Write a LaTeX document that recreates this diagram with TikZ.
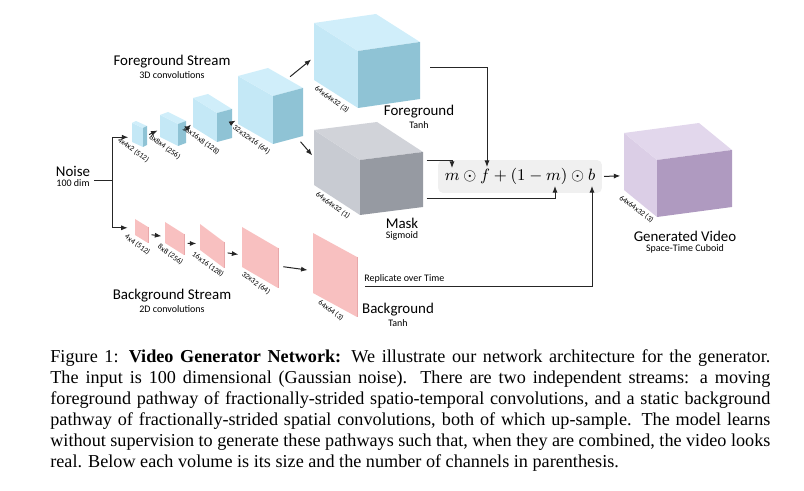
\documentclass[tikz,border=0pt]{standalone}
\usepackage{fontspec}
\setmainfont{Liberation Serif}
\setsansfont{Carlito}
\usetikzlibrary{arrows.meta, positioning, calc}

\definecolor{fgside}{RGB}{196,232,246}
\definecolor{fgtop}{RGB}{208,238,250}
\definecolor{fgfront}{RGB}{143,195,213}
\definecolor{mkside}{RGB}{200,203,210}
\definecolor{mktop}{RGB}{209,211,217}
\definecolor{mkfront}{RGB}{150,154,162}
\definecolor{gvside}{RGB}{219,206,230}
\definecolor{gvtop}{RGB}{226,215,236}
\definecolor{gvfront}{RGB}{175,154,192}
\definecolor{bgpink}{RGB}{248,192,192}
\definecolor{bgedge}{RGB}{232,168,170}
\definecolor{combfill}{RGB}{240,240,240}

% volume drawn as oblique box: name, bottom-left corner, depth, width, height, side/top/front colours
\newcommand{\cuboid}[8]{%
  \coordinate (#1-g) at #2;
  \coordinate (#1-a) at ($(#1-g)+(0,-#5)$);
  \coordinate (#1-e) at ($(#1-g)+#3$);
  \coordinate (#1-d) at ($(#1-a)+#3$);
  \coordinate (#1-f) at ($(#1-e)+#4$);
  \coordinate (#1-c) at ($(#1-d)+#4$);
  \coordinate (#1-b) at ($(#1-a)+#4$);
  \fill[#6] (#1-a) -- (#1-d) -- (#1-e) -- (#1-g) -- cycle;
  \fill[#7] (#1-a) -- (#1-b) -- (#1-c) -- (#1-d) -- cycle;
  \fill[#8] (#1-d) -- (#1-c) -- (#1-f) -- (#1-e) -- cycle;
}
% flat 2D map: name, bottom-left corner, depth, height
\newcommand{\slab}[4]{%
  \coordinate (#1-g) at #2;
  \coordinate (#1-a) at ($(#1-g)+(0,-#4)$);
  \coordinate (#1-e) at ($(#1-g)+#3$);
  \coordinate (#1-d) at ($(#1-a)+#3$);
  \fill[bgpink] (#1-a) -- (#1-d) -- (#1-e) -- (#1-g) -- cycle;
  \draw[bgedge, line width=0.5pt] (#1-d) -- (#1-e);
}

\begin{document}
\begin{tikzpicture}[
    x=0.55pt, y=-0.55pt,
    font=\sffamily,
    lbl/.style={font=\sffamily\fontsize{8.2}{9}\selectfont, inner sep=0pt},
    sublbl/.style={font=\sffamily\fontsize{5.5}{6}\selectfont, inner sep=0pt},
    dimlbl/.style={font=\sffamily\fontsize{4.2}{4.5}\selectfont, inner sep=1.8pt, rotate=-36, anchor=north},
    wire/.style={line width=0.55pt, black!85},
    conn/.style={wire, -{Latex[length=3.6pt, width=2.8pt]}},
    formula/.style={fill=combfill, rounded corners=2.5pt, minimum width=90pt, minimum height=18pt, inner sep=0pt, font=\fontsize{9}{10}\selectfont},
    caption/.style={font=\rmfamily\fontsize{10}{11.55}\selectfont, text width=396pt, align=justify, inner sep=0pt}
]
\useasboundingbox (0,0) rectangle (804,491);

% foreground stream
\cuboid{c1}{(132,142)}{(11,5)}{(4,-2)}{19}{fgside}{fgtop}{fgfront}
\cuboid{c2}{(160,137)}{(18,9)}{(8,-3)}{22}{fgside}{fgtop}{fgfront}
\cuboid{c3}{(193,127)}{(24,15)}{(15,-4)}{29}{fgside}{fgtop}{fgfront}
\cuboid{c4}{(238,124)}{(35,20)}{(30,-8)}{48}{fgside}{fgtop}{fgfront}
\cuboid{fg5}{(314,80)}{(44,28)}{(62,-9)}{57}{fgside}{fgtop}{fgfront}
\cuboid{mask}{(314,185)}{(46,30)}{(63,-8)}{55}{mkside}{mktop}{mkfront}
\cuboid{gen}{(624,190)}{(33,27)}{(75,-10)}{57}{gvside}{gvtop}{gvfront}

% background stream
\slab{s1}{(135,235)}{(13,8)}{16}
\slab{s2}{(165,243)}{(19,12)}{21}
\slab{s3}{(200,250)}{(24,18)}{26}
\slab{s4}{(242,267)}{(36,21)}{40}
\slab{s5}{(313,293)}{(44,24)}{60}

% sizes
\node[dimlbl] (c1dim) at ($(c1-g)!0.5!(c1-e)$) {4x4x2 (512)};
\node[dimlbl] (c2dim) at ($(c2-g)!0.5!(c2-e)$) {8x8x4 (256)};
\node[dimlbl] (c3dim) at ($(c3-g)!0.5!(c3-e)$) {16x16x8 (128)};
\node[dimlbl] (c4dim) at ($(c4-g)!0.5!(c4-e)$) {32x32x16 (64)};
\node[dimlbl] (fg5dim) at ($(fg5-g)!0.5!(fg5-e)$) {64x64x32 (3)};
\node[dimlbl] (maskdim) at ($(mask-g)!0.5!(mask-e)$) {64x64x32 (1)};
\node[dimlbl] (gendim) at ($(gen-g)!0.5!(gen-e)$) {64x64x32 (3)};
\node[dimlbl] (s1dim) at ($(s1-g)!0.5!(s1-e)$) {4x4 (512)};
\node[dimlbl] (s2dim) at ($(s2-g)!0.5!(s2-e)$) {8x8 (256)};
\node[dimlbl] (s3dim) at ($(s3-g)!0.5!(s3-e)$) {16x16 (128)};
\node[dimlbl] (s4dim) at ($(s4-g)!0.5!(s4-e)$) {32x32 (64)};
\node[dimlbl] (s5dim) at ($(s5-g)!0.5!(s5-e)$) {64x64 (3)};

% titles
\node[lbl] (noise) at (73,171) {Noise};
\node[sublbl, below=1.5pt of noise] (noisedim) {100 dim};
\node[lbl] (fgtitle) at (172,62) {Foreground Stream};
\node[sublbl, below=1.5pt of fgtitle] (fgsub) {3D convolutions};
\node[lbl] (bgtitle) at (172,296) {Background Stream};
\node[sublbl, below=1.5pt of bgtitle] (bgsub) {2D convolutions};
\node[lbl] (fgname) at (419,112) {Foreground};
\node[sublbl, below=1.5pt of fgname] (fgact) {Tanh};
\node[lbl] (maskname) at (402,223) {Mask};
\node[sublbl, below=1.5pt of maskname] (maskact) {Sigmoid};
\node[lbl] (bgname) at (398,310) {Background};
\node[sublbl, below=1.5pt of bgname] (bgact) {Tanh};
\node[lbl] (genname) at (685,236) {Generated Video};
\node[sublbl, below=1.5pt of genname] (gensub) {Space-Time Cuboid};

% combination
\node[formula] (comb) at (520,176.5) {$m\odot f+(1-m)\odot b$};
\node[sublbl, anchor=base west] (repl) at (364,282) {Replicate over Time};
\coordinate (split) at (112,181);
\coordinate (ftop) at (487,167);
\coordinate (mtop) at (452,168);
\coordinate (mbot) at (555,186);
\coordinate (bbot) at (592,186);

% noise to both streams
\draw[wire] ([xshift=2pt]noise.east |- split) -- (split);
\draw[conn, shorten >=2pt] (split) |- ($(c1-a)!0.75!(c1-g)$);
\draw[conn, shorten >=4pt] (split) |- ($(s1-a)!0.55!(s1-g)$);

% up-sampling
\draw[conn, shorten <=2.5pt, shorten >=1.5pt] ($(c1-e)!0.5!(c1-c)$) -- ($(c2-g)!0.35!(c2-a)$);
\draw[conn, shorten <=2.5pt, shorten >=1.5pt] ($(c2-e)!0.5!(c2-c)$) -- ($(c3-g)!0.15!(c3-a)$);
\draw[conn, shorten <=4pt, shorten >=1.5pt] ($(c3-e)!0.45!(c3-c)$) -- ($(c4-g)!0.1!(c4-a)$);
\draw[conn, shorten <=2pt, shorten >=2pt] ($(c4-b)!0.55!(c4-c)$) -- ($(fg5-a)!0.6!(fg5-g)$);
\draw[conn, shorten <=3pt, shorten >=1.5pt] ($(c4-e)!0.8!(c4-f)$) -- ($(mask-a)!0.5!(mask-g)$);
\draw[conn, shorten <=2pt, shorten >=2pt] ($(s1-e)!0.55!(s1-d)$) -- ($(s2-g)!0.3!(s2-a)$);
\draw[conn, shorten <=2pt, shorten >=2pt] ($(s2-e)!0.55!(s2-d)$) -- ($(s3-g)!0.25!(s3-a)$);
\draw[conn, shorten <=2pt, shorten >=2pt] ($(s3-e)!0.6!(s3-d)$) -- ($(s4-g)!0.3!(s4-a)$);
\draw[conn, shorten <=3pt, shorten >=3pt] ($(s4-e)!0.55!(s4-d)$) -- ($(s5-g)!0.37!(s5-a)$);

% into the mix
\draw[conn, shorten <=5.5pt] ($(fg5-c)!0.45!(fg5-f)$) -| (ftop);
\draw[conn, shorten <=2pt] ($(mask-c)!0.15!(mask-f)$) -| (mtop);
\draw[conn, shorten <=2pt] ($(mask-c)!0.85!(mask-f)$) -| (mbot);
\draw[conn, shorten <=4.4pt] ($(s5-e)!0.5!(s5-d)$) -| (bbot);
\draw[conn, shorten <=1pt, shorten >=2pt] (comb.east) -- ($(gen-a)!0.75!(gen-g)$);

% caption
\node[caption, anchor=north west] (cap) at (50,349) {Figure 1: \textbf{Video Generator Network:} We illustrate our network architecture for the generator.\linebreak
The input is 100 dimensional (Gaussian noise). There are two independent streams: a moving\linebreak
foreground pathway of fractionally-strided spatio-temporal convolutions, and a static background\linebreak
pathway of fractionally-strided spatial convolutions, both of which up-sample. The model learns\linebreak
without supervision to generate these pathways such that, when they are combined, the video looks\linebreak
real. Below each volume is its size and the number of channels in parenthesis.};

\end{tikzpicture}
\end{document}
